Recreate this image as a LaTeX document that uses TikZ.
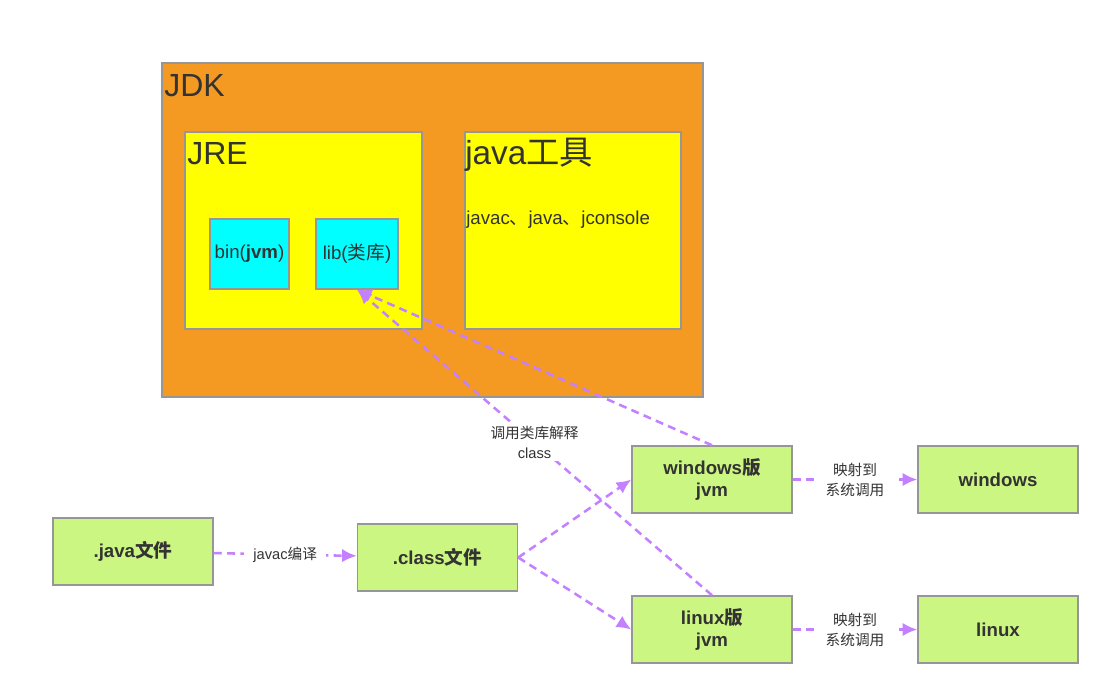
\documentclass[tikz,border=0pt]{standalone}
\usepackage{fontspec}
\setmainfont{Liberation Sans}
\newfontfamily\cjk{Noto Sans CJK SC}
\usetikzlibrary{arrows.meta}
\definecolor{jdkorange}{RGB}{244,154,35}
\definecolor{jreyellow}{RGB}{255,255,0}
\definecolor{libcyan}{RGB}{0,255,255}
\definecolor{boxgray}{RGB}{150,150,150}
\definecolor{textgray}{RGB}{51,51,51}
\definecolor{flowgreen}{RGB}{204,246,130}
\definecolor{callpurple}{RGB}{195,128,255}
\begin{document}
\begin{tikzpicture}[x=0.75pt,y=-0.75pt,
    outerbox/.style={draw=boxgray,line width=1.1pt},
    biglabel/.style={anchor=base west,text=textgray,inner sep=0pt,font=\fontsize{24}{28}\selectfont},
    libbox/.style={draw=boxgray,line width=0.9pt,fill=libcyan,text=textgray,
        minimum height=52.5pt,inner sep=0pt,font=\fontsize{14}{17}\selectfont},
    flowbox/.style={draw=boxgray,line width=1.1pt,fill=flowgreen,text=textgray,
        minimum width=120pt,minimum height=50.25pt,inner sep=0pt,align=center,
        font=\fontsize{14}{17}\selectfont\bfseries},
    callarrow/.style={draw=callpurple,line width=1.9pt,dash pattern=on 6pt off 4pt,
        -{Latex[length=11pt,width=10pt]}},
    edgelabel/.style={fill=white,text=textgray,align=center,inner ysep=2pt,inner xsep=7pt,
        font=\fontsize{11}{15}\selectfont}]
    \useasboundingbox (0,0) rectangle (1120,683);
    %JDK e contenuto
    \draw[outerbox,fill=jdkorange] (162,63) rectangle (703,397);
    \node[biglabel] (jdklabel) at (164,96) {JDK};
    \draw[outerbox,fill=jreyellow] (185,132) rectangle (422,329);
    \node[biglabel] (jrelabel) at (187,164) {JRE};
    \draw[outerbox,fill=jreyellow] (465,132) rectangle (681,329);
    \node[biglabel,font=\fontsize{25}{28}\selectfont] (toollabel) at (465,164) {java{\cjk 工具}};
    \node[anchor=base west,text=textgray,inner sep=0pt,font=\fontsize{14}{17}\selectfont] (toollist) at (466,224) {javac{\cjk 、}java{\cjk 、}jconsole};
    \node[libbox,minimum width=59.25pt] (bin) at (249.5,254) {bin(\textbf{jvm})};
    \node[libbox,minimum width=61.5pt] (lib) at (357,254) {lib({\cjk 类库})};
    %file e jvm
    \node[flowbox] (javafile) at (133,551.5) {.java{\cjk 文件}};
    \node[flowbox] (classfile) at (437.5,557.5) {.class{\cjk 文件}};
    \node[flowbox] (winjvm) at (712,479.5) {windows{\cjk 版}\\jvm};
    \node[flowbox] (linjvm) at (712,629.5) {linux{\cjk 版}\\jvm};
    \node[flowbox] (winos) at (998,479.5) {windows};
    \node[flowbox] (linos) at (998,629.5) {linux};
    %frecce
    \draw[callarrow] (javafile) -- node[edgelabel] {javac{\cjk 编译}} (classfile);
    \draw[callarrow] (classfile.east) -- (winjvm.west);
    \draw[callarrow] (classfile.east) -- (linjvm.west);
    \draw[callarrow] (winjvm) -- node[edgelabel] {{\cjk 映射到}\\{\cjk 系统调用}} (winos);
    \draw[callarrow] (linjvm) -- node[edgelabel] {{\cjk 映射到}\\{\cjk 系统调用}} (linos);
    \draw[callarrow] (winjvm.north) -- (lib.south);
    \draw[callarrow] (linjvm.north) -- node[edgelabel,pos=0.5,inner xsep=3pt] {{\cjk 调用类库解释}\\class} (lib.south);
\end{tikzpicture}
\end{document}
